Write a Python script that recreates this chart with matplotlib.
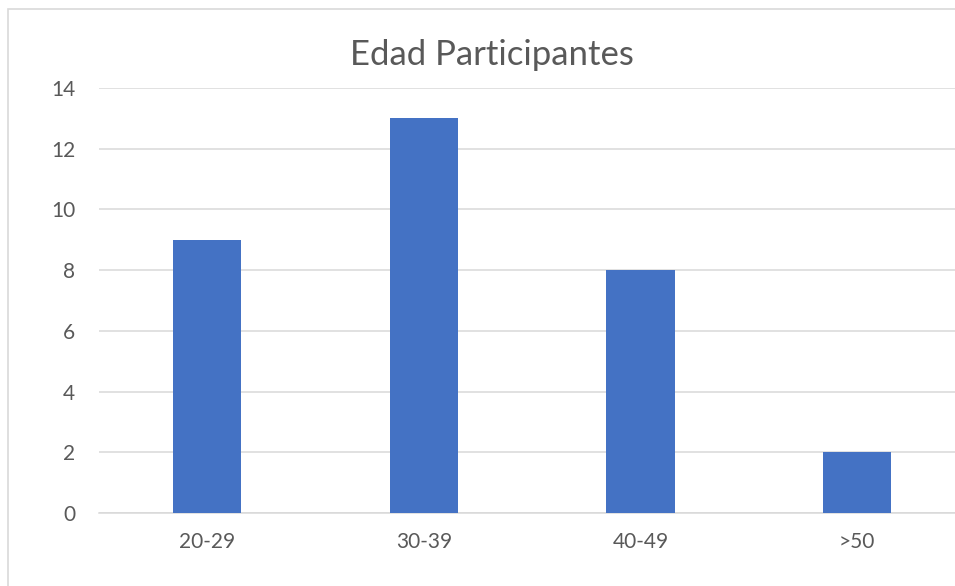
import matplotlib
matplotlib.use("Agg")
import matplotlib.pyplot as plt
from matplotlib.patches import Rectangle

categories = ["20-29", "30-39", "40-49", ">50"]
values = [9, 13, 8, 2]
yticks = [0, 2, 4, 6, 8, 10, 12, 14]
title = "Edad Participantes"

plt.rcParams['font.family'] = ['Lato', 'DejaVu Sans']
fig = plt.figure(figsize=(9.55, 5.86), dpi=100)
fig.patch.set_facecolor('white')

# outer chart border
fig.patches.append(Rectangle((8/955, -0.05), 1.1, 1 - 9/586 + 0.05, transform=fig.transFigure,
                             fill=False, edgecolor='#d9d9d9', linewidth=1.2, zorder=0))

ax = fig.add_axes([98.7/955, 1 - 513/586, (965.6 - 98.7)/955, (513 - 88)/586])
x = range(len(categories))
ax.bar(x, values, width=0.314, color='#4472c4', zorder=3)
ax.set_xlim(-0.5, len(categories) - 0.5)
ax.set_ylim(0, 14)
ax.set_yticks(yticks)
ax.set_xticks(list(x))
ax.set_xticklabels(categories)
ax.yaxis.grid(True, color='#d9d9d9', linewidth=1.1, zorder=0)
ax.set_axisbelow(True)
for s in ['top', 'right', 'left']:
    ax.spines[s].set_visible(False)
ax.spines['bottom'].set_color('#d9d9d9')
ax.spines['bottom'].set_linewidth(1.1)
ax.tick_params(axis='both', length=0, labelsize=15, labelcolor='#595959')
ax.tick_params(axis='y', pad=17)
ax.tick_params(axis='x', pad=14)

fig.text(492/955, 1 - 65/586, title, ha='center', va='baseline', fontsize=25, color='#595959')

fig.savefig('out.png', dpi=100, facecolor='white')
